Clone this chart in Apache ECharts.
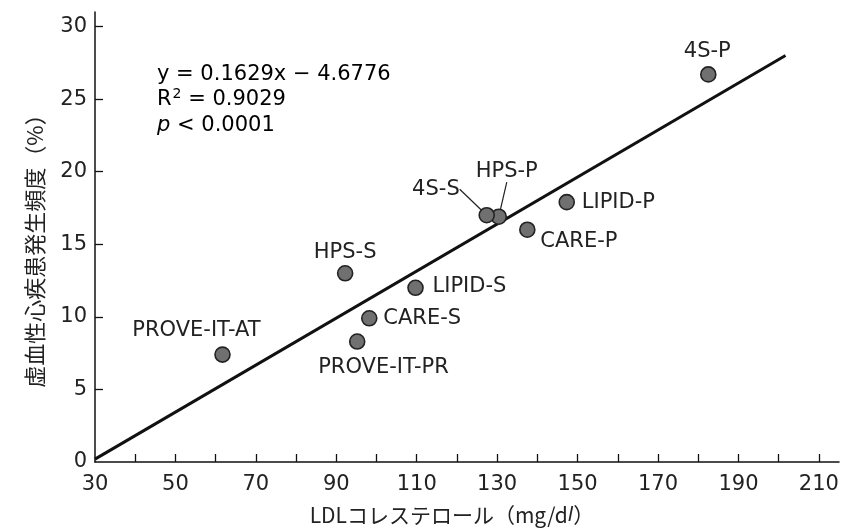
<!DOCTYPE html>
<html>
<head>
<meta charset="utf-8">
<script src="https://cdn.jsdelivr.net/npm/echarts@6/dist/echarts.min.js"></script>
<style>
html,body{margin:0;padding:0;background:#fff;}
#c{width:844px;height:531px;}
</style>
</head>
<body>
<div id="c"></div>
<script>
// ---- data ----
const trialNames = ['4S-P', 'LIPID-P', 'CARE-P', 'HPS-P', '4S-S', 'HPS-S', 'LIPID-S', 'CARE-S', 'PROVE-IT-PR', 'PROVE-IT-AT'];
const ldlValues  = [182.5, 147.3, 137.5, 130.4, 127.4, 92.2, 109.7, 98.2, 95.2, 61.7];
const chdRates   = [26.7, 17.9, 16.0, 16.9, 17.0, 13.0, 12.0, 9.9, 8.3, 7.4];
const fitLine    = [[30, 0.2], [201.7, 28.0]];
const xTickValues  = [40, 50, 60, 70, 80, 90, 100, 110, 120, 130, 140, 150, 160, 170, 180, 190, 200, 210];
const xLabelValues = [30, 50, 70, 90, 110, 130, 150, 170, 190, 210];
const yTickValues  = [5, 10, 15, 20, 25, 30];
const yLabelValues = [0, 5, 10, 15, 20, 25, 30];

// ---- label placement (layout only) ----
const labelPlacement = {
  '4S-P':        { offset: [-1, -23], align: 'center' },
  'LIPID-P':     { offset: [15, 0],   align: 'left' },
  'CARE-P':      { offset: [13, 12],  align: 'left' },
  'HPS-P':       { offset: [8, -45],  align: 'center', guide: true },
  '4S-S':        { offset: [-27, -26], align: 'right', guide: true },
  'HPS-S':       { offset: [0, -21],  align: 'center' },
  'LIPID-S':     { offset: [17, -1],  align: 'left' },
  'CARE-S':      { offset: [14, 0],   align: 'left' },
  'PROVE-IT-PR': { offset: [-39, 26], align: 'left' },
  'PROVE-IT-AT': { offset: [-26, -24], align: 'center' }
};

const latin = 'DejaVu Sans';
const cjk = 'Noto Sans CJK JP';

const scatterData = trialNames.map((name, i) => {
  const p = labelPlacement[name];
  return {
    name: name,
    value: [ldlValues[i], chdRates[i]],
    label: {
      show: true,
      position: 'inside',
      offset: p.offset,
      align: p.align,
      verticalAlign: 'middle',
      formatter: name
    },
    labelLine: { show: !!p.guide, length2: 0, lineStyle: { color: '#222', width: 1.2 } }
  };
});

const chart = echarts.init(document.getElementById('c'), null, { renderer: 'canvas' });
chart.setOption({
  animation: false,
  backgroundColor: '#ffffff',
  grid: { left: 95, right: 5, top: 12, bottom: 67, containLabel: false },
  xAxis: {
    type: 'value',
    min: 30, max: 215, interval: 10,
    name: '{a|LDLコレステロール（mg/d}{b|l}{a|）}',
    nameLocation: 'middle',
    nameGap: 43,
    nameTextStyle: {
      padding: [0, 30, 0, 0],
      rich: {
        a: { fontFamily: cjk, fontSize: 21, color: '#222' },
        b: { fontFamily: latin, fontSize: 20, fontStyle: 'italic', color: '#222' }
      }
    },
    axisLine: { show: true, lineStyle: { color: '#111', width: 1.5 } },
    axisTick: { show: true, inside: true, length: 8, customValues: xTickValues, lineStyle: { color: '#111', width: 1.3 } },
    axisLabel: { customValues: xLabelValues, margin: 12, fontFamily: latin, fontSize: 21, color: '#222' },
    splitLine: { show: false }
  },
  yAxis: {
    type: 'value',
    min: 0, max: 31, interval: 5,
    name: '虚血性心疾患発生頻度（%）',
    nameLocation: 'middle',
    nameGap: 49,
    nameTextStyle: { fontFamily: cjk, fontSize: 22, color: '#222', padding: [0, 17, 0, 0] },
    axisLine: { show: true, lineStyle: { color: '#111', width: 1.5 } },
    axisTick: { show: true, inside: true, length: 8, customValues: yTickValues, lineStyle: { color: '#111', width: 1.3 } },
    axisLabel: { customValues: yLabelValues, margin: 8, fontFamily: latin, fontSize: 21, color: '#222' },
    splitLine: { show: false }
  },
  graphic: [{
    type: 'text',
    left: 157, top: 64,
    style: {
      text: '{t|y = 0.1629x − 4.6776}\n{t|R}{s|2}{t| = 0.9029}\n{i|p}{t| < 0.0001}',
      rich: {
        t: { fontFamily: latin, fontSize: 21, color: '#222', lineHeight: 25.5 },
        s: { fontFamily: latin, fontSize: 14, color: '#222', verticalAlign: 'top', lineHeight: 25.5, padding: [0, 0, 9, 1] },
        i: { fontFamily: latin, fontSize: 21, fontStyle: 'italic', color: '#222', lineHeight: 25.5 }
      }
    }
  }],
  series: [
    {
      type: 'line',
      data: fitLine,
      symbol: 'none',
      lineStyle: { color: '#111', width: 3 },
      z: 2,
      silent: true
    },
    {
      type: 'scatter',
      data: scatterData,
      symbol: 'circle',
      symbolSize: 15,
      itemStyle: { color: '#707070', borderColor: '#222', borderWidth: 1.6, opacity: 1 },
      label: { color: '#222', fontFamily: latin, fontSize: 21 },
      z: 3
    }
  ]
});
</script>
</body>
</html>
